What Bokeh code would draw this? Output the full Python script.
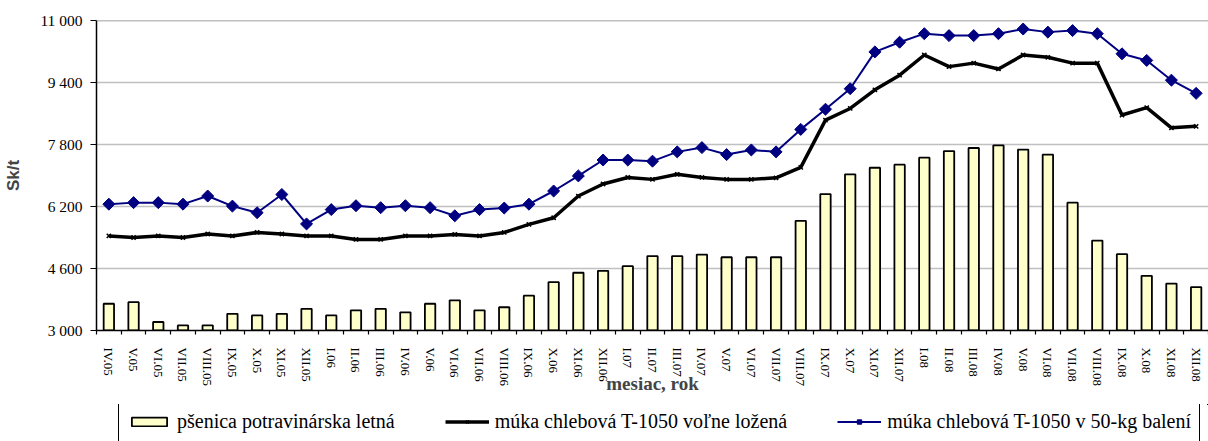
import math
from bokeh.plotting import figure
from bokeh.layouts import column
from bokeh.models import (Range1d, LinearAxis, FixedTicker,
                          Legend, LegendItem, Span, ColumnDataSource)
from bokeh.embed import file_html
from bokeh.resources import INLINE

months = ["IV.05", "V.05", "VI.05", "VII.05", "VIII.05", "IX.05", "X.05", "XI.05", "XII.05",
          "I.06", "II.06", "III.06", "IV.06", "V.06", "VI.06", "VII.06", "VIII.06", "IX.06",
          "X.06", "XI.06", "XII.06",
          "I.07", "II.07", "III.07", "IV.07", "V.07", "VI.07", "VII.07", "VIII.07", "IX.07",
          "X.07", "XI.07", "XII.07",
          "I.08", "II.08", "III.08", "IV.08", "V.08", "VI.08", "VII.08", "VIII.08", "IX.08",
          "X.08", "XI.08", "XII.08"]

wheat = [3690, 3730, 3220, 3130, 3130, 3430, 3390, 3430, 3560,
         3390, 3520, 3560, 3470, 3690, 3780, 3520, 3600, 3900, 4250, 4490, 4540,
         4660, 4920, 4920, 4960, 4890, 4890, 4890, 5830, 6520, 7030, 7200, 7280,
         7460, 7630, 7710, 7780, 7670, 7540, 6300, 5320, 4970, 4410, 4210, 4120]

flour_loose = [5440, 5400, 5440, 5400, 5490, 5440, 5530, 5490, 5440,
               5440, 5350, 5350, 5440, 5440, 5480, 5440, 5530, 5740, 5910, 6470, 6780,
               6950, 6900, 7030, 6950, 6900, 6900, 6940, 7210, 8430, 8730, 9210, 9590,
               10110, 9810, 9900, 9750, 10110, 10050, 9900, 9900, 8560, 8750, 8230, 8270]

flour_50kg = [6260, 6300, 6300, 6260, 6470, 6210, 6040, 6510, 5750,
              6120, 6220, 6170, 6220, 6170, 5960, 6120, 6160, 6260, 6600, 6990, 7400,
              7400, 7370, 7610, 7720, 7540, 7660, 7610, 8190, 8710, 9240, 10190, 10440,
              10660, 10610, 10610, 10660, 10780, 10700, 10740, 10660, 10140, 9970, 9460, 9120]

y_ticks = [3000, 4600, 6200, 7800, 9400, 11000]
y_tick_labels = ["3 000", "4 600", "6 200", "7 800", "9 400", "11 000"]

series_names = ["pšenica potravinárska letná",
                "múka chlebová T-1050 voľne ložená",
                "múka chlebová T-1050 v 50-kg balení"]

SERIF = "Liberation Serif"
SANS = "Liberation Sans"

BAR_STYLE = dict(fill_color="#ffffcc", line_color="black", line_width=1.8)
LOOSE_LINE = dict(line_color="black", line_width=3.5)
LOOSE_MARK = dict(marker="x", size=6, line_color="black", line_width=1.5)
BAG_LINE = dict(line_color="#000080", line_width=2)
BAG_MARK = dict(marker="square", angle=math.pi / 4, size=8.5,
                fill_color="#000080", line_color="#000080")

# category slots: month i occupies [i, i+1] on the x scale
n = len(months)
centers = [i + 0.5 for i in range(n)]
boundaries = list(range(n + 1))

src = ColumnDataSource(dict(x=centers, m=months, wheat=wheat, loose=flour_loose, bag=flour_50kg))

p = figure(width=1208, height=404,
           x_range=Range1d(0, n),
           y_range=Range1d(y_ticks[0], y_ticks[-1]),
           output_backend="svg", toolbar_location=None, x_axis_location=None,
           min_border_left=96, min_border_right=0, min_border_top=20, min_border_bottom=74)
p.outline_line_color = None
p.background_fill_color = "white"
p.border_fill_color = "white"

# grid
p.xgrid.visible = False
p.yaxis.ticker = FixedTicker(ticks=y_ticks)
p.ygrid.ticker = FixedTicker(ticks=y_ticks)
p.ygrid.grid_line_color = "#c0c0c0"
p.ygrid.grid_line_width = 1.5
p.add_layout(Span(location=y_ticks[-1], dimension="width", line_color="#808080", line_width=1.5))

# y axis
p.yaxis.major_label_overrides = {t: l for t, l in zip(y_ticks, y_tick_labels)}
p.yaxis.major_label_text_font = SERIF
p.yaxis.major_label_text_font_size = "15.5px"
p.yaxis.major_label_text_color = "black"
p.yaxis.major_tick_out = 6
p.yaxis.major_tick_in = 0
p.yaxis.minor_tick_line_color = None
p.yaxis.major_label_standoff = 8
p.yaxis.axis_line_color = "black"
p.yaxis.axis_line_width = 1.5
p.yaxis.major_tick_line_width = 1.2
p.yaxis.axis_label = "Sk/t"
p.yaxis.axis_label_text_font = SANS
p.yaxis.axis_label_text_font_style = "bold"
p.yaxis.axis_label_text_font_size = "17px"
p.yaxis.axis_label_standoff = 14

# series
p.vbar(x="x", top="wheat", width=0.42, source=src, **BAR_STYLE)
p.line(x="x", y="loose", source=src, **LOOSE_LINE)
p.scatter(x="x", y="loose", source=src, **LOOSE_MARK)
p.line(x="x", y="bag", source=src, **BAG_LINE)
p.scatter(x="x", y="bag", source=src, **BAG_MARK)

# x axis: ticks at category boundaries (no labels)
tick_axis = LinearAxis(ticker=FixedTicker(ticks=boundaries, minor_ticks=[]),
                       major_tick_out=4, major_tick_in=0, minor_tick_line_color=None,
                       major_label_text_font_size="0px", major_label_text_color=None,
                       major_label_standoff=0, axis_line_color="black", axis_line_width=1.5,
                       major_tick_line_width=1.2)
p.add_layout(tick_axis, "below")

# x axis: month labels at category centres
cat_axis = LinearAxis(ticker=FixedTicker(ticks=centers, minor_ticks=[]),
                      major_label_overrides={c: m for c, m in zip(centers, months)},
                      axis_line_color=None, major_tick_line_color=None,
                      minor_tick_line_color=None,
                      major_label_orientation="vertical", major_label_standoff=7,
                      major_label_text_font=SERIF, major_label_text_font_size="13px",
                      major_label_text_color="black",
                      axis_label="mesiac, rok", axis_label_text_font=SERIF,
                      axis_label_text_font_style="bold", axis_label_text_font_size="19px",
                      axis_label_standoff=-16)
p.add_layout(cat_axis, "below")

# legend strip below the chart (its renderers reuse the data but lie outside its view)
lg = figure(width=1208, height=37, x_range=Range1d(-100, -99), y_range=Range1d(-100, -99),
            output_backend="svg", toolbar_location=None,
            x_axis_location=None, y_axis_location=None,
            min_border_left=0, min_border_right=0, min_border_top=0, min_border_bottom=0)
lg.outline_line_color = None
lg.grid.visible = False
r_bar = lg.vbar(x="x", top="wheat", width=0.42, source=src, **BAR_STYLE)
r_l1 = lg.line(x="x", y="loose", source=src, **LOOSE_LINE)
r_s1 = lg.scatter(x="x", y="loose", source=src, **LOOSE_MARK)
r_l2 = lg.line(x="x", y="bag", source=src, **BAG_LINE)
r_s2 = lg.scatter(x="x", y="bag", source=src, **BAG_MARK)

legend = Legend(items=[LegendItem(label=series_names[0], renderers=[r_bar]),
                       LegendItem(label=series_names[1], renderers=[r_l1, r_s1]),
                       LegendItem(label=series_names[2], renderers=[r_l2, r_s2])],
                orientation="horizontal", location=(22, -1),
                spacing=50, glyph_width=44, glyph_height=11, label_standoff=6,
                padding=8, margin=0,
                border_line_color="black", border_line_width=1, border_line_alpha=1,
                background_fill_color="white", background_fill_alpha=1,
                label_text_font=SERIF, label_text_font_size="20px", label_text_color="black")
lg.add_layout(legend, "center")

layout = column(p, lg, spacing=0)
open("out.html", "w").write(file_html(layout, INLINE))
